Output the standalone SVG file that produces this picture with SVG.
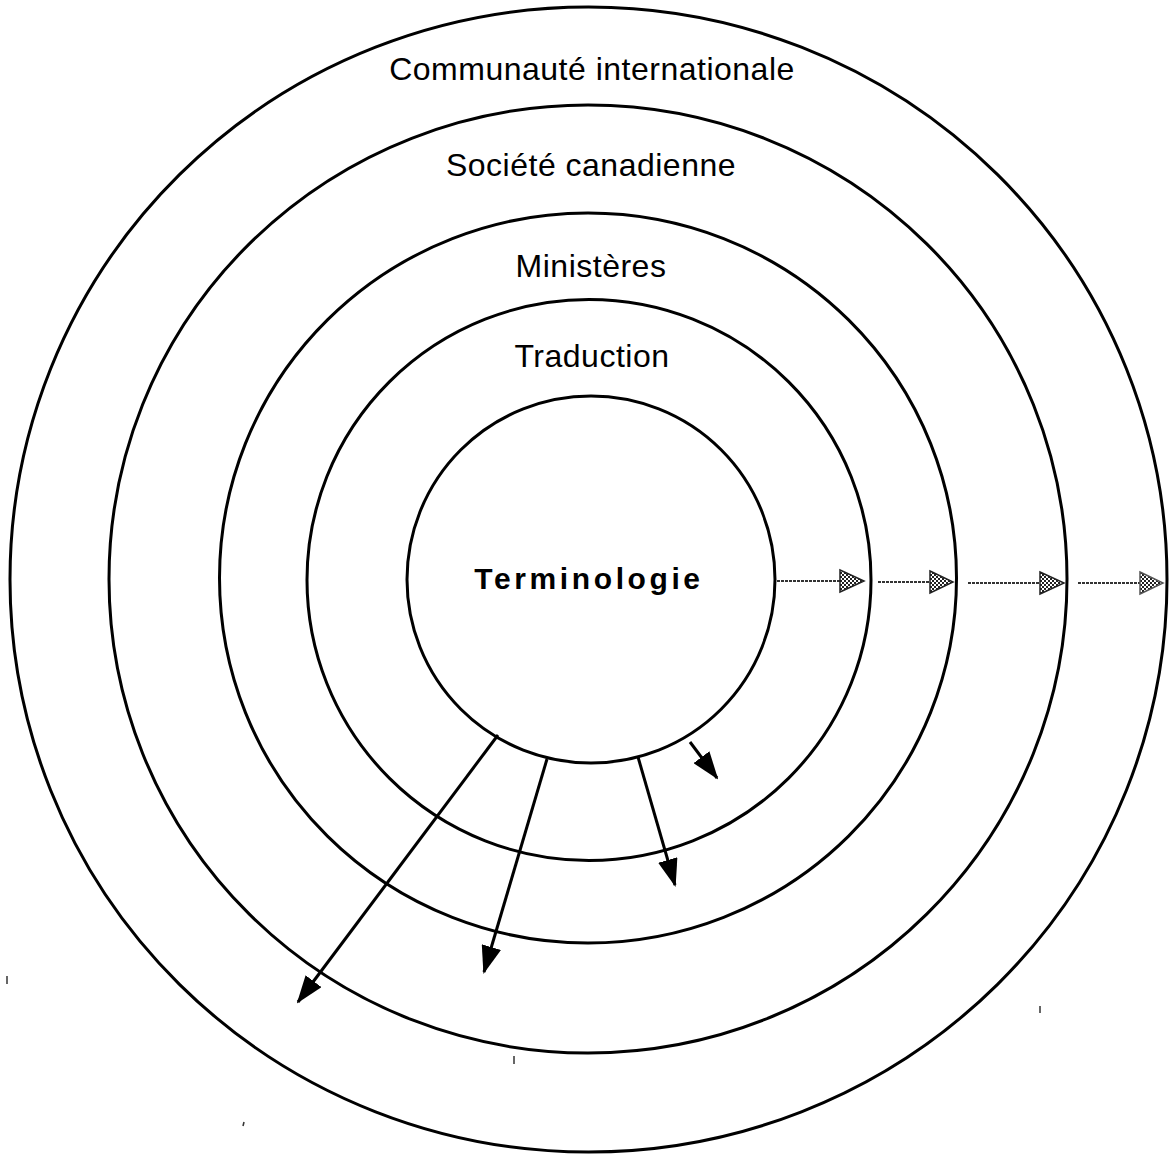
<svg xmlns="http://www.w3.org/2000/svg" width="1172" height="1156" viewBox="0 0 1172 1156">
<style>
.ring{fill:none;stroke:#000;stroke-width:3}
.lbl{font-family:"Liberation Sans",Arial,sans-serif;font-size:32px;fill:#000;text-anchor:middle;letter-spacing:0.5px}
.core{font-family:"Liberation Sans",Arial,sans-serif;font-size:30px;font-weight:bold;fill:#000;text-anchor:middle;letter-spacing:3.6px}
.blk{stroke:#000;stroke-width:3;fill:none;marker-end:url(#ah)}
.gln{stroke:#333;stroke-width:2;stroke-dasharray:3 1;fill:none}
.ghd{fill:url(#chk);stroke:#222;stroke-width:1.5}
.speck{stroke:#333;stroke-width:1.5}
</style>
<defs>
<marker id="ah" markerUnits="userSpaceOnUse" markerWidth="28" markerHeight="20" refX="26" refY="10" orient="auto">
<path d="M0,0 L28,10 L0,20 Z" fill="#000"/>
</marker>
<pattern id="chk" width="4" height="4" patternUnits="userSpaceOnUse">
<rect width="4" height="4" fill="#fff"/>
<rect width="2" height="2" fill="#222"/>
<rect x="2" y="2" width="2" height="2" fill="#222"/>
</pattern>
</defs>
<rect width="1172" height="1156" fill="#fff"/>
<g id="communaute">
<ellipse class="ring" cx="588.5" cy="579.5" rx="578.5" ry="572.5"/>
<text class="lbl" x="592" y="80">Communauté internationale</text>
</g>
<g id="societe">
<ellipse class="ring" cx="588" cy="579" rx="479" ry="474"/>
<text class="lbl" x="591" y="176">Société canadienne</text>
</g>
<g id="ministeres">
<ellipse class="ring" cx="588" cy="578" rx="368.5" ry="365"/>
<text class="lbl" x="591" y="277">Ministères</text>
</g>
<g id="traduction">
<ellipse class="ring" cx="589" cy="580" rx="282" ry="280.5"/>
<text class="lbl" x="592" y="367">Traduction</text>
</g>
<g id="terminologie">
<ellipse class="ring" cx="591" cy="579.5" rx="184" ry="183.5"/>
<text class="core" x="589" y="589">Terminologie</text>
</g>
<g id="connectors">
<line class="blk" x1="498" y1="735" x2="298" y2="1002"/>
<line class="blk" x1="547" y1="759" x2="484" y2="972"/>
<line class="blk" x1="638" y1="757" x2="675" y2="885"/>
<line class="blk" x1="690" y1="742" x2="717" y2="778"/>
<line class="gln" x1="777" y1="581" x2="842" y2="581"/>
<path class="ghd" d="M840,570 L864,581 L840,592 Z"/>
<line class="gln" x1="878" y1="582" x2="932" y2="582"/>
<path class="ghd" d="M930,571 L953,582 L930,593 Z"/>
<line class="gln" x1="968" y1="583" x2="1042" y2="583"/>
<path class="ghd" d="M1040,572 L1064,583 L1040,594 Z"/>
<line class="gln" x1="1078" y1="583" x2="1142" y2="583"/>
<path class="ghd" d="M1140,572 L1163,583 L1140,594 Z" style="stroke:#555"/>
</g>
<g id="specks">
<line class="speck" x1="7" y1="976" x2="7" y2="984"/>
<line class="speck" x1="514" y1="1056" x2="514" y2="1064"/>
<line class="speck" x1="1040" y1="1006" x2="1040" y2="1013"/>
<line class="speck" x1="244" y1="1122" x2="243" y2="1126"/>
</g>
</svg>
